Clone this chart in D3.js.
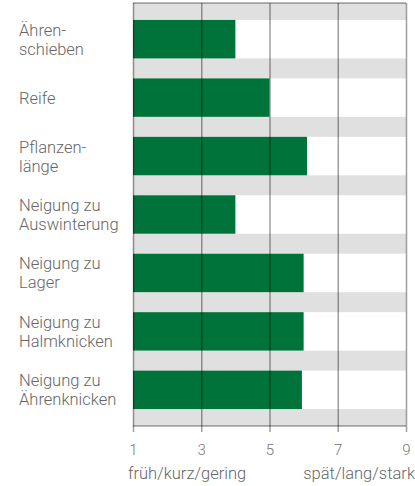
<!DOCTYPE html>
<html>
<head>
<meta charset="utf-8">
<script src="https://cdn.jsdelivr.net/npm/d3@7"></script>
<style>
  body { margin: 0; background: #fff; }
  svg text { font-family: Roboto, "Liberation Sans", Arial, sans-serif; font-weight: 300; fill: #666; }
</style>
</head>
<body>
<svg id="chart" width="415" height="486"></svg>
<script>
// traits, each label split into its printed lines
const traits = [
  ["Ähren-", "schieben"],
  ["Reife"],
  ["Pflanzen-", "länge"],
  ["Neigung zu", "Auswinterung"],
  ["Neigung zu", "Lager"],
  ["Neigung zu", "Halmknicken"],
  ["Neigung zu", "Ährenknicken"]
];
const scores = [4, 5, 6.1, 4, 6, 6, 5.95];
const tickValues = [1, 3, 5, 7, 9];
const endLabels = ["früh/kurz/gering", "spät/lang/stark"];

const svg = d3.select("#chart");
const margin = { top: 3, right: 9, bottom: 60, left: 133 };
const width = 415, height = 486;

const keys = traits.map((d, i) => i);

const x = d3.scaleLinear()
  .domain([1, 9])
  .range([margin.left, width - margin.right]);

const y = d3.scaleBand()
  .domain(keys)
  .range([margin.top, height - margin.bottom])
  .paddingInner(0.342)
  .paddingOuter(0.29);

// grey background
svg.append("rect")
  .attr("x", x(1)).attr("y", margin.top)
  .attr("width", x(9) - x(1))
  .attr("height", height - margin.bottom - margin.top)
  .attr("fill", "#e0e0e0");

// white rows behind the bars
svg.append("g").selectAll("rect")
  .data(keys)
  .join("rect")
  .attr("x", x(1))
  .attr("y", d => y(d))
  .attr("width", x(9) - x(1))
  .attr("height", y.bandwidth())
  .attr("fill", "#fff");

// bars
svg.append("g").selectAll("rect")
  .data(scores)
  .join("rect")
  .attr("x", x(1))
  .attr("y", (d, i) => y(i))
  .attr("width", d => x(d) - x(1))
  .attr("height", y.bandwidth())
  .attr("fill", "#00733a");

// vertical grid lines, drawn over the bars
const xAxis = d3.axisBottom(x)
  .tickValues(tickValues)
  .tickSize(-(height - margin.bottom - margin.top) - 6)
  .tickPadding(12)
  .tickFormat(d3.format("d"));

const gx = svg.append("g")
  .attr("transform", `translate(0,${height - margin.bottom + 6})`)
  .call(xAxis);
gx.select(".domain").remove();
gx.selectAll(".tick line")
  .attr("stroke", "#000")
  .attr("stroke-opacity", 0.38)
  .attr("stroke-width", 1.5);
gx.selectAll(".tick text")
  .attr("font-size", 15)
  .style("fill", "#777");

// top and bottom frame lines
svg.append("g").selectAll("line")
  .data([margin.top, height - margin.bottom])
  .join("line")
  .attr("x1", x(1)).attr("x2", x(9))
  .attr("y1", d => d).attr("y2", d => d)
  .attr("stroke", "#000")
  .attr("stroke-opacity", 0.38)
  .attr("stroke-width", 1.5);

// category labels
const lab = svg.append("g").selectAll("text")
  .data(traits)
  .join("text")
  .attr("x", 19)
  .attr("font-size", 16.5)
  .attr("y", (d, i) => y(i) + y.bandwidth() / 2 + 6 - (d.length - 1) * 9.5);
lab.selectAll("tspan")
  .data(d => d)
  .join("tspan")
  .attr("x", 19)
  .attr("dy", (d, j) => j === 0 ? 0 : 19)
  .text(d => d);

// end labels below the axis
svg.append("text")
  .attr("x", x(1) - 5).attr("y", 479)
  .attr("font-size", 16.5)
  .text(endLabels[0]);
svg.append("text")
  .attr("x", width).attr("y", 479)
  .attr("font-size", 16.5)
  .attr("text-anchor", "end")
  .text(endLabels[1]);
</script>
</body>
</html>
